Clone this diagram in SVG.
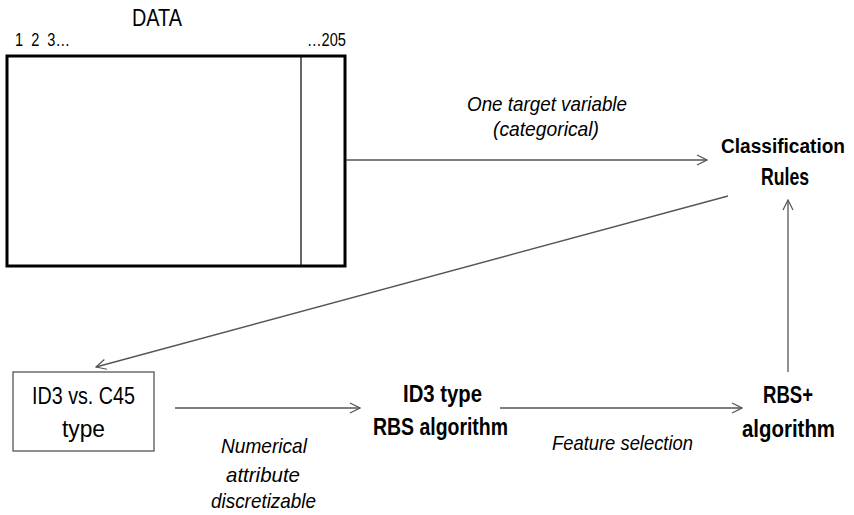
<svg xmlns="http://www.w3.org/2000/svg" width="854" height="515" viewBox="0 0 854 515">
<style>
text{font-family:"Liberation Sans",Arial,sans-serif;fill:#000}
.lbl{font-size:21px;font-style:italic}
.bold{font-size:23px;font-weight:bold}
.norm{font-size:23px}
.conn{stroke:#555;stroke-width:1.3;fill:none;marker-end:url(#arr)}
</style>
<defs>
<marker id="arr" viewBox="0 0 12 12" refX="11" refY="6" markerWidth="12" markerHeight="12" markerUnits="userSpaceOnUse" orient="auto">
<path d="M1,1 L11,6 L1,11" fill="none" stroke="#555" stroke-width="1.2"/>
</marker>
</defs>
<g id="data">
<text class="norm" x="132" y="26" textLength="50" lengthAdjust="spacingAndGlyphs">DATA</text>
<text x="15" y="46" font-size="18" textLength="55" lengthAdjust="spacingAndGlyphs" xml:space="preserve">1  2  3…</text>
<text x="307" y="46" font-size="18" textLength="39" lengthAdjust="spacingAndGlyphs">…205</text>
<rect x="7" y="56" width="338" height="210" fill="#fff" stroke="#000" stroke-width="3"/>
<line x1="301" y1="56" x2="301" y2="266" stroke="#000" stroke-width="1.2"/>
</g>
<g id="classification">
<text x="721" y="153" font-size="19.5" font-weight="bold" textLength="124" lengthAdjust="spacingAndGlyphs">Classification</text>
<text class="bold" x="761" y="185" textLength="48" lengthAdjust="spacingAndGlyphs">Rules</text>
</g>
<g id="id3c45">
<rect x="13" y="372" width="141" height="79" fill="#fff" stroke="#555" stroke-width="1.3"/>
<text class="norm" x="32" y="404" textLength="103" lengthAdjust="spacingAndGlyphs">ID3 vs. C45</text>
<text class="norm" x="62" y="437" textLength="43" lengthAdjust="spacingAndGlyphs">type</text>
</g>
<g id="id3rbs">
<text class="bold" x="403" y="402" textLength="79" lengthAdjust="spacingAndGlyphs">ID3 type</text>
<text class="bold" x="373" y="435" textLength="135" lengthAdjust="spacingAndGlyphs">RBS algorithm</text>
</g>
<g id="rbsplus">
<text class="bold" x="763" y="403" textLength="50" lengthAdjust="spacingAndGlyphs">RBS+</text>
<text class="bold" x="742" y="437" textLength="93" lengthAdjust="spacingAndGlyphs">algorithm</text>
</g>
<g id="connectors">
<line class="conn" x1="346" y1="160" x2="707" y2="160"/>
<line class="conn" x1="728" y1="196" x2="96" y2="367"/>
<line class="conn" x1="175" y1="408" x2="360" y2="408"/>
<line class="conn" x1="500" y1="408" x2="742" y2="408"/>
<line class="conn" x1="788" y1="372" x2="788" y2="200"/>
<text class="lbl" x="467" y="111" font-size="20" textLength="160" lengthAdjust="spacingAndGlyphs">One target variable</text>
<text class="lbl" x="493" y="136" font-size="20" textLength="106" lengthAdjust="spacingAndGlyphs">(categorical)</text>
<text class="lbl" x="221" y="453" textLength="86" lengthAdjust="spacingAndGlyphs">Numerical</text>
<text class="lbl" x="226" y="482" textLength="74" lengthAdjust="spacingAndGlyphs">attribute</text>
<text class="lbl" x="211" y="508" textLength="105" lengthAdjust="spacingAndGlyphs">discretizable</text>
<text class="lbl" x="552" y="450" textLength="141" lengthAdjust="spacingAndGlyphs">Feature selection</text>
</g>
</svg>
